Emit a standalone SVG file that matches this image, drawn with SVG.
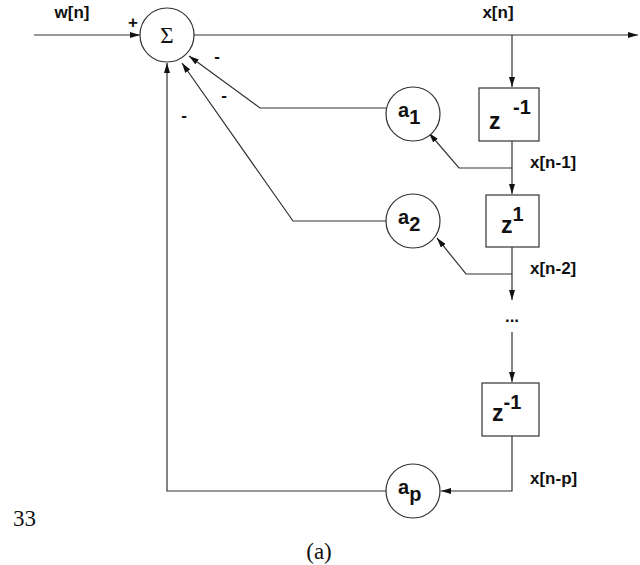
<svg xmlns="http://www.w3.org/2000/svg" width="640" height="565" viewBox="0 0 640 565">
<style>
.l{fill:none;stroke:#333;stroke-width:1.2}
.n{fill:#fff;stroke:#333;stroke-width:1.2}
.t{font-family:"Liberation Sans",Arial,sans-serif;font-weight:bold;font-size:17px;fill:#111}
.b{font-size:23px}
.sub{font-size:20px}
.s{font-family:"Liberation Serif","Times New Roman",serif;font-size:23px;fill:#111}
</style>
<defs><marker id="a" viewBox="0 0 10 6" refX="10" refY="3" markerWidth="10" markerHeight="6" orient="auto" markerUnits="userSpaceOnUse"><path d="M0,0L10,3L0,6z" fill="#111"/></marker></defs>
<rect width="640" height="565" fill="#fff"/>
<g id="connectors">
<path class="l" d="M34,35H140" marker-end="url(#a)"/>
<path class="l" d="M194,35H638" marker-end="url(#a)"/>
<path class="l" d="M512,35V87" marker-end="url(#a)"/>
<path class="l" d="M512,141V194" marker-end="url(#a)"/>
<path class="l" d="M512,247V300" marker-end="url(#a)"/>
<path class="l" d="M512,332V382" marker-end="url(#a)"/>
<path class="l" d="M512,168H459L429,133" marker-end="url(#a)"/>
<path class="l" d="M512,274H466L437,238" marker-end="url(#a)"/>
<path class="l" d="M512,436V491H441" marker-end="url(#a)"/>
<path class="l" d="M386,108H260L189,56" marker-end="url(#a)"/>
<path class="l" d="M386,221H293L182,63" marker-end="url(#a)"/>
<path class="l" d="M386,491H167V63" marker-end="url(#a)"/>
</g>
<g id="sum"><circle class="n" cx="167" cy="35" r="27"/><text class="s" x="167" y="43" text-anchor="middle">Σ</text></g>
<g id="a1"><circle class="n" cx="413" cy="114" r="27"/><text class="t sub" x="398" y="117">a<tspan dy="7">1</tspan></text></g>
<g id="a2"><circle class="n" cx="413" cy="221" r="27"/><text class="t sub" x="398" y="224">a<tspan dy="7">2</tspan></text></g>
<g id="ap"><circle class="n" cx="413" cy="491" r="27"/><text class="t sub" x="398" y="494">a<tspan dy="7">p</tspan></text></g>
<g id="z1"><rect class="n" x="479" y="88" width="60" height="53"/><text class="t b" x="489" y="129">z<tspan class="sub" x="513" y="114">-1</tspan></text></g>
<g id="z2"><rect class="n" x="486" y="195" width="53" height="52"/><text class="t b" x="501" y="233">z<tspan class="sub" dy="-12">1</tspan></text></g>
<g id="z3"><rect class="n" x="482" y="383" width="57" height="53"/><text class="t b" x="492" y="421">z<tspan class="sub" dy="-12">-1</tspan></text></g>
<g id="labels">
<text class="t" x="72" y="18" text-anchor="middle">w[n]</text>
<text class="t" x="133" y="28" text-anchor="middle">+</text>
<text class="t" x="498" y="18" text-anchor="middle">x[n]</text>
<text class="t" x="217" y="62" text-anchor="middle">-</text>
<text class="t" x="224" y="101" text-anchor="middle">-</text>
<text class="t" x="184" y="121" text-anchor="middle">-</text>
<text class="t" x="530" y="168">x[n-1]</text>
<text class="t" x="530" y="274">x[n-2]</text>
<text class="t" x="530" y="484">x[n-p]</text>
<text class="t" x="512" y="322" text-anchor="middle">...</text>
<text class="s" x="13" y="526">33</text>
<text class="s" x="319" y="559" text-anchor="middle">(a)</text>
</g>
</svg>
